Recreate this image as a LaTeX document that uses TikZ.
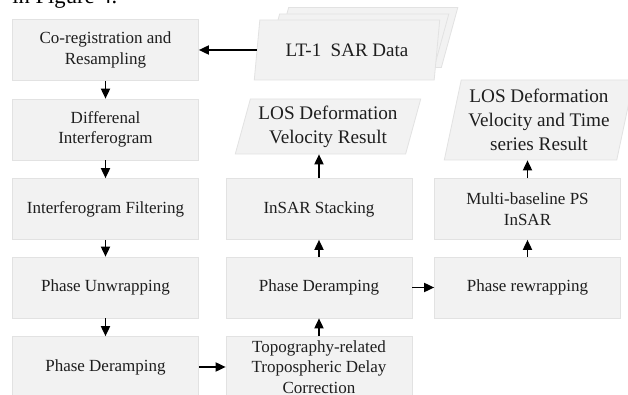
\documentclass[tikz,border=0pt]{standalone}
\usepackage{fontspec}
\setmainfont{Liberation Serif}
\usetikzlibrary{arrows.meta,shapes.geometric}

\definecolor{boxfill}{RGB}{242,242,242}
\definecolor{boxline}{RGB}{226,226,226}
\definecolor{txt}{RGB}{30,30,30}

\tikzset{
  stepbox/.style={draw=boxline,fill=boxfill,rectangle,minimum width=93pt,minimum height=30.5pt,
    inner sep=0pt,align=center,text=txt,font=\fontsize{8.5}{10.2}\selectfont},
  databox/.style={draw=boxline,fill=boxfill,trapezium,trapezium stretches=true,
    trapezium left angle=#1,trapezium right angle=180-#1,inner sep=0pt,align=center,text=txt,
    font=\fontsize{9.6}{12}\selectfont},
  flow/.style={-{Triangle[length=5pt,width=4.6pt]},line width=0.65pt,black},
}

\begin{document}
\begin{tikzpicture}[x=0.5pt,y=-0.5pt]
  \clip (0,0) rectangle (628,395);
  \fill[white] (0,0) rectangle (628,395);
  \node[anchor=base west,inner sep=0pt,font=\fontsize{11.3}{13}\selectfont] (caption) at (12,3.5) {in Figure 4.};

  % left column
  \node[stepbox] (coreg) at (105.5,50) {Co-registration and\\Resampling};
  \node[stepbox] (diff) at (105.5,129.5) {Differenal\\Interferogram};
  \node[stepbox] (filt) at (105.5,209) {Interferogram Filtering};
  \node[stepbox] (unwrap) at (105.5,287.5) {Phase Unwrapping};
  \node[stepbox] (deramp) at (105.5,367) {Phase Deramping};

  % middle column
  \node[stepbox] (topo) at (319,367) {Topography-related\\Tropospheric Delay\\Correction};
  \node[stepbox] (deramp2) at (319,287.5) {Phase Deramping};
  \node[stepbox] (stack) at (319,209) {InSAR Stacking};
  \node[databox=72,minimum width=93pt,minimum height=27.5pt] (losv) at (328,126.5) {LOS Deformation\\Velocity Result};

  % right column
  \node[stepbox] (rewrap) at (527.5,287.5) {Phase rewrapping};
  \node[stepbox] (multi) at (527.5,209) {Multi-baseline PS\\InSAR};
  \node[databox=76,minimum width=95pt,minimum height=40pt] (losr) at (539,120) {LOS Deformation\\Velocity and Time\\series Result};

  % input data stack
  \node[databox=73,minimum width=93pt,minimum height=30pt] (sar3) at (365,37.5) {\phantom{LT-1}};
  \node[databox=73,minimum width=93pt,minimum height=30pt] (sar2) at (356,44) {\phantom{LT-1}};
  \node[databox=73,minimum width=93pt,minimum height=30pt,font=\fontsize{9.5}{12}\selectfont] (sar) at (347,50) {LT-1~~SAR Data};

  \draw[flow] (sar) -- (coreg);
  \draw[flow] (coreg) -- (diff);
  \draw[flow] (diff) -- (filt);
  \draw[flow] (filt) -- (unwrap);
  \draw[flow] (unwrap) -- (deramp);
  \draw[flow] (deramp) -- (topo);
  \draw[flow] (topo) -- (deramp2);
  \draw[flow] (deramp2) -- (stack);
  \draw[flow] (stack) -- (stack |- losv.south);
  \draw[flow] (deramp2) -- (rewrap);
  \draw[flow] (rewrap) -- (multi);
  \draw[flow] (multi) -- (multi |- losr.south);
\end{tikzpicture}
\end{document}
